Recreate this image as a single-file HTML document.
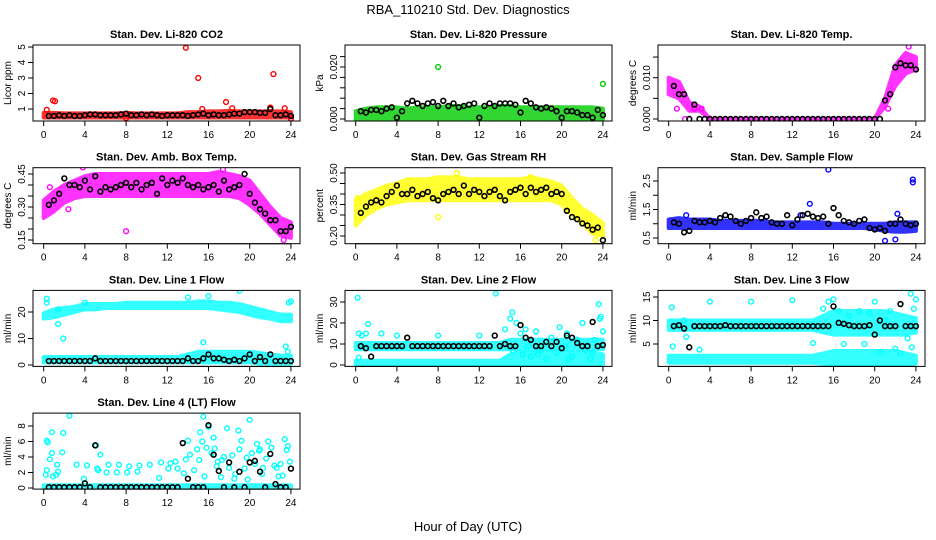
<!DOCTYPE html>
<html><head><meta charset="utf-8"><style>
body{margin:0;background:#fff}
svg{display:block;font-family:"Liberation Sans",sans-serif}
</style></head><body>
<svg id="chart" width="936" height="540" viewBox="0 0 936 540" xmlns="http://www.w3.org/2000/svg">
<rect width="936" height="540" fill="#fff"/>
<text x="468" y="14" text-anchor="middle" font-size="13">RBA_110210  Std. Dev. Diagnostics</text>
<text x="468" y="531" text-anchor="middle" font-size="13">Hour of Day (UTC)</text>
</svg>
<script>
const bandHours=[0,1,2,3,4,5,6,7,8,9,10,11,12,13,14,15,16,17,18,19,20,21,22,23,24];
const blkHours=[0.5,1,1.5,2,2.5,3,3.5,4,4.5,5,5.5,6,6.5,7,7.5,8,8.5,9,9.5,10,10.5,11,11.5,12,12.5,13,13.5,14,14.5,15,15.5,16,16.5,17,17.5,18,18.5,19,19.5,20,20.5,21,21.5,22,22.5,23,23.5,24];
const xTicks=[0,4,8,12,16,20,24];

// A CO2
const coLo=[0.45,0.45,0.45,0.45,0.45,0.45,0.45,0.45,0.45,0.45,0.45,0.45,0.45,0.45,0.45,0.45,0.45,0.45,0.45,0.45,0.45,0.45,0.45,0.45,0.45];
const coHi=[0.75,0.75,0.72,0.72,0.72,0.72,0.72,0.72,0.75,0.72,0.72,0.72,0.72,0.72,0.8,0.8,0.85,0.85,0.88,0.85,0.85,0.85,0.85,0.85,0.8];
const coOutH=[0.3,0.9,1.1,13.8,15,15.4,17.7,18.3,22,22.3,23.4,8,24];
const coOutV=[0.95,1.55,1.5,4.95,3.0,1.0,1.45,1.05,1.1,3.25,1.05,0.4,0.38];
const coBlk=[0.55,0.55,0.6,0.55,0.6,0.55,0.55,0.6,0.65,0.65,0.6,0.6,0.6,0.6,0.65,0.7,0.6,0.6,0.65,0.6,0.65,0.6,0.55,0.6,0.6,0.6,0.6,0.55,0.6,0.65,0.7,0.6,0.65,0.6,0.6,0.65,0.7,0.7,0.8,0.8,0.8,0.75,0.75,1.0,0.6,0.6,0.65,0.55];
// B pressure
const prLo=[0,0,0,0,0,0,0,0,0,0,0,0,0,0,0,0,0,0,0,0,0,0,0,0,0];
const prHi=[0.003,0.004,0.0045,0.0045,0.0045,0.004,0.0045,0.0045,0.0045,0.005,0.005,0.0045,0.0045,0.0045,0.005,0.005,0.0045,0.0045,0.0045,0.0045,0.0045,0.0045,0.0045,0.0045,0.004];
const prOutH=[8,16,24];
const prOutV=[0.02,0.0335,0.0135];
const prBlk=[0.003,0.0025,0.0035,0.0035,0.003,0.004,0.0045,0.0005,0.003,0.006,0.007,0.006,0.005,0.006,0.0065,0.005,0.007,0.005,0.006,0.0045,0.005,0.0055,0.006,0.0005,0.005,0.006,0.005,0.006,0.006,0.006,0.0055,0.0025,0.007,0.006,0.0045,0.004,0.0045,0.004,0.003,0.0005,0.003,0.003,0.0025,0.0015,0.0015,0.0005,0.0035,0.0015];
// C temp
const tpLo=[0.006,0.005,0.002,0.002,0,0,0,0,0,0,0,0,0,0,0,0,0,0,0,0,0,0.003,0.008,0.011,0.012];
const tpHi=[0.01,0.009,0.004,0.003,0,0,0,0,0,0,0,0,0,0,0,0,0,0,0,0,0,0.005,0.013,0.016,0.015];
const tpOutH=[0.8,23.3,21.3,1.6,2.5,3.2];
const tpOutV=[0.0025,0.0175,0.0025,0,0.0025,0.0025];
const tpBlk=[0.008,0.006,0.006,0,0.0035,0,0,0,0,0,0,0,0,0,0,0,0,0,0,0,0,0,0,0,0,0,0,0,0,0,0,0,0,0,0,0,0,0,0,0,0,0.0045,0.006,0.0125,0.0135,0.013,0.013,0.012];
// D amb box
const abLo=[0.25,0.28,0.32,0.34,0.35,0.35,0.35,0.35,0.35,0.35,0.35,0.35,0.35,0.35,0.35,0.35,0.35,0.35,0.35,0.34,0.31,0.27,0.22,0.17,0.16];
const abHi=[0.33,0.37,0.4,0.42,0.44,0.45,0.45,0.45,0.45,0.45,0.45,0.45,0.45,0.45,0.45,0.45,0.45,0.46,0.45,0.44,0.42,0.36,0.3,0.25,0.23];
const abOutH=[3.8,8,2.4,0.6,17.4,23.3];
const abOutV=[0.48,0.19,0.29,0.39,0.47,0.15];
const abBlk=[0.31,0.33,0.36,0.43,0.40,0.40,0.39,0.42,0.38,0.44,0.37,0.39,0.38,0.39,0.40,0.41,0.39,0.41,0.38,0.40,0.41,0.36,0.43,0.40,0.42,0.41,0.43,0.40,0.39,0.40,0.38,0.39,0.40,0.37,0.42,0.38,0.39,0.40,0.45,0.36,0.32,0.29,0.27,0.24,0.24,0.19,0.19,0.21];
// E RH
const rhLo=[0.25,0.3,0.33,0.35,0.36,0.37,0.37,0.37,0.37,0.37,0.37,0.37,0.37,0.37,0.37,0.37,0.37,0.37,0.37,0.37,0.35,0.3,0.26,0.21,0.2];
const rhHi=[0.37,0.4,0.42,0.44,0.45,0.47,0.47,0.47,0.48,0.48,0.48,0.47,0.47,0.47,0.47,0.47,0.47,0.48,0.47,0.46,0.44,0.38,0.33,0.3,0.26];
const rhOutH=[9.8,8,23.3,0.2,17];
const rhOutV=[0.5,0.29,0.18,0.38,0.48];
const rhBlk=[0.31,0.34,0.36,0.37,0.36,0.39,0.41,0.44,0.40,0.40,0.42,0.39,0.40,0.41,0.38,0.37,0.40,0.41,0.42,0.40,0.44,0.40,0.42,0.41,0.39,0.41,0.42,0.39,0.37,0.41,0.42,0.43,0.40,0.43,0.41,0.42,0.43,0.40,0.41,0.40,0.32,0.29,0.28,0.26,0.25,0.23,0.24,0.18];
// F sample flow
const sfLo=[0.85,0.85,0.85,0.85,0.85,0.85,0.85,0.85,0.85,0.85,0.85,0.85,0.85,0.85,0.85,0.85,0.85,0.85,0.85,0.85,0.8,0.75,0.72,0.72,0.75];
const sfHi=[1.15,1.2,1.15,1.15,1.15,1.1,1.1,1.1,1.1,1.1,1.05,1.05,1.05,1.05,1.05,1.05,1.0,1.0,1.0,1.0,1.0,1.0,1.05,1.05,1.05];
const sfOutH=[15.5,23.7,23.7,13.7,22.2,21,22,1.7,12.8];
const sfOutV=[2.9,2.55,2.45,1.7,1.35,0.4,0.45,1.3,1.3];
const sfBlk=[1.05,1.0,0.7,0.75,1.1,1.05,1.05,1.1,1.05,1.2,1.3,1.25,1.1,1.0,1.1,1.2,1.4,1.2,1.25,1.05,1.0,1.0,1.3,0.95,1.15,1.3,1.35,1.25,1.2,1.25,1.0,1.55,1.3,1.1,1.05,1.0,1.1,1.15,0.85,0.8,0.85,0.75,1.0,1.0,1.15,1.0,0.95,1.0];
// G line 1
const l1ALo=[17.5,18,19,20,21,21,21.5,21.5,21.5,21.5,21.5,21.5,21.5,21.5,21.5,21.5,21.5,21,20.5,20,19,18,17.5,16.5,16.5];
const l1AHi=[19.5,21,21.5,22,23,23,23,23,23.5,23.5,23.5,23.5,23.5,23.5,23.5,24,24,23.5,23.5,23,22,21,20,19,19];
const l1BLo=[1,1,1,1,1,1,1,1,1,1,1,1,1,1,1,1,1,1,1,1,1,0.5,0.5,0.5,0.5];
const l1BHi=[3,3,3,3,3,3,3,3,3,3,3,3,3,3,4,5,5,5,5,5,5,4.5,4,3.5,3.5];
const l1OutH=[0.3,0.3,1.4,1.4,1.9,15.5,14,19,23.5,23.7,23.8,24,16,4];
const l1OutV=[25,23.5,21,15.5,10,8.5,25.5,28,7,5,23.5,24,26,23.5];
const l1Blk=[1.5,1.5,1.5,1.5,1.5,1.5,1.5,1.5,1.5,2.5,1.5,1.5,1.5,1.5,1.5,1.5,1.5,1.5,1.5,1.5,1.5,1.5,1.5,1.5,1.5,1.5,1.5,2.5,1.5,1.5,2.5,4,2.5,2.5,2,1.5,2,1.5,2.5,4,1.5,3,1.5,4,1.5,1.5,1.5,1.5];
// H line 2
const l2ALo=[7.5,7.5,7.5,7.5,7.5,7.5,7.5,7.5,7.5,7.5,7.5,7.5,7.5,7.5,7.5,7.5,7.5,7.5,7.5,7.5,7.5,7.5,7.5,7.5,7.5];
const l2AHi=[10.5,10.5,10.5,10.5,10.5,10.5,10.5,10.5,10.5,10.5,10.5,10.5,10.5,10.5,10.5,12,12,12,12,12,12,12,12,12,12];
const l2BLo=[0,0,0,0,0,0,0,0,0,0,0,0,0,0,0,0,0,0,0,0,0,0,0,0,0];
const l2BHi=[2,2,2,2,2,2,2,2,2,2,2,2,2,2,2,5,6,6,6,6,6,6,6,6,5];
const l2OutH=[0.2,0.3,0.6,1,1.2,2.5,4,8,12,13.6,14.5,15,15.2,15.6,16,16.5,16.2,16.8,17,17.5,18,18.5,19,19.5,19.8,20.3,20.5,21,21.5,22,22.3,22.8,23.2,23.6,23.7,23.8,24,0.3,15.3,17.7,20.7,23];
const l2OutV=[32,15,14,15,19.5,15,14,14,14,34,17,22,25,20,15,17,5,9,4,16,7,3,13,6,18,9,15,4,12,20,7,3,12,29,22,23,16,3.5,6.5,5,3,6];
const l2Blk=[9,8,4,9,9,9,9,9,9,13,9,9,9,9,9,9,9,9,9,9,9,9,9,9,9,9,14,9,10,9,9,19,13,12,9,9,11,9,11,8,14,13,10.5,9,9,20.5,9,9.5];
// I line 3
const l3ALo=[8,8,8,8,8,8,8,8,8,8,8,8,8,8,8,7.5,7,7,7,7,7,7,7,7,7.5];
const l3AHi=[10,10,10,10,10,10,10,10,10,10,10,10,10,10,10,11,12,12,12,12,12,12,11.5,11,10.5];
const l3BLo=[1,1,1,1,1,1,1,1,1,1,1,1,1,1,1,0.8,0.5,0.5,0.5,0.5,0.5,0.5,0.5,0.5,0.8];
const l3BHi=[2.5,2.5,2.5,2.5,2.5,2.5,2.5,2.5,2.5,2.5,2.5,2.5,2.5,2.5,2.5,3,3.5,3.5,3.5,3.5,3.5,3.5,3.5,3,2.5];
const l3OutH=[0.3,0.4,1.5,1.7,3,4,8,12,14,15.5,16,20,21,23.5,23.8,24,23.2,23.6,15,16.5,17.5,18.5,19.5,19,21.5,22,22.5,17,20.5];
const l3OutV=[12.8,4.5,10,6.5,3.8,14,14,14.3,5.2,14,14.5,14,10,15.7,12.5,14.5,6.2,4.3,12.5,12,11,12,11.5,5,12,4,3,5,3.3];
const l3Blk=[8.8,9,8.3,4.3,8.8,8.8,8.8,8.8,8.8,8.8,9,8.8,8.8,8.8,8.8,8.8,8.8,8.8,8.8,8.8,8.8,8.8,8.8,8.8,8.8,8.8,8.8,8.8,8.8,8.8,8.8,13,9.5,9.3,9,8.8,8.8,8.8,9,7,10,8.8,8.8,8.8,13.5,8.8,8.8,8.8];
// J line 4
const l4Lo=[0,0,0,0,0,0,0,0,0,0,0,0,0,0,0,0,0,0,0,0,0,0,0,0,0];
const l4Hi=[0.35,0.35,0.35,0.35,0.35,0.35,0.35,0.35,0.35,0.35,0.35,0.35,0.35,0.35,0.35,0.35,0.35,0.35,0.35,0.35,0.35,0.35,0.35,0.35,0.35];
const l4OutH=[0.2,0.3,0.3,0.4,0.6,0.8,0.8,0.9,1.2,1.3,1.4,1.8,1.9,2.5,3.2,3.9,4.2,5.1,5.2,5.3,5.5,6.1,6.3,7.1,7.3,8.1,8.3,9.1,9.3,10.3,11.2,11.4,12.1,12.3,12.8,13.0,13.6,13.8,14.0,14.2,14.6,14.9,15.1,15.2,15.4,15.5,15.6,15.8,16.0,16.3,16.5,16.6,16.9,17.2,17.5,17.8,18.0,18.3,18.6,18.9,19.0,19.2,19.5,19.8,20.0,20.2,20.5,20.7,21.0,21.3,21.6,21.8,22.1,22.4,22.8,23.0,23.2,23.4,23.6,23.7,23.9,16.8,17.3,18.5,19.7,21.2,22.6,20.9];
const l4OutV=[1.7,2.3,6.1,5.9,3.7,7.2,4.5,1.5,1.7,3.0,2.1,4.6,7.1,9.3,3.0,1.2,2.9,5.5,2.5,2.3,4.3,2.0,3.0,2.0,3.0,2.0,2.8,2.1,2.9,3.0,1.3,3.3,2.5,3.2,3.4,2.5,1.9,3.7,6.1,4.3,2.3,5.0,3.6,7.2,6.0,9.2,1.5,5.2,7.9,4.5,6.5,5.1,3.4,1.4,4.0,7.7,2.6,4.2,1.8,7.4,5.0,6.1,2.5,1.1,8.8,4.5,3.1,5.7,5.0,2.6,3.8,6.0,5.2,2.9,1.5,3.1,1.6,6.3,4.9,5.4,3.4,2.8,3.6,1.2,3.9,1.8,2.6,4.8];
const l4Blk=[0.1,0.1,0.1,0.1,0.1,0.1,0.1,0.6,0.1,5.5,0.1,0.1,0.1,0.1,0.1,0.1,0.1,0.1,0.1,0.1,0.1,0.1,0.1,0.1,0.1,0.1,5.8,1.2,0.1,0.1,0.1,8.1,4.3,2.2,0.1,3.3,0.1,2.1,0.1,3.3,3.5,2.1,0.1,4.4,0.5,0.1,0.1,2.5];

const NS='http://www.w3.org/2000/svg';
const svg=document.getElementById('chart');
function el(tag,attrs,parent){const e=document.createElementNS(NS,tag);for(const k in attrs)e.setAttribute(k,attrs[k]);(parent||svg).appendChild(e);return e;}
const colLeft=[33,345,658],colW=267,boxH=76;
function rowTop(r){return 45+122.7*r;}

function panel(p){
  const L=colLeft[p.col],T=rowTop(p.row),B=T+boxH;
  const g=el('g',{});
  
  
  const xs=h=>L+colW*(0.04+h/24*0.926);
  const ys=v=>p.py1+(v-p.v1)*(p.py2-p.py1)/(p.v2-p.v1);
  const clip='c'+p.name;
  const cp=el('clipPath',{id:clip},g);el('rect',{x:L,y:T,width:colW,height:boxH},cp);
  const pg=el('g',{'clip-path':'url(#'+clip+')'},g);
  p.bands.forEach((b,bi)=>{
    const pts=bandHours.map((h,i)=>xs(h)+','+ys(b[0][i])).concat(bandHours.map((h,i)=>xs(h)+','+ys(b[1][i])).reverse());
    const poly=el('polygon',{points:pts.join(' '),fill:p.color,opacity:0.8,stroke:p.color,'stroke-width':4,'stroke-linejoin':'round'},pg);
    
    
  });
  p.outH.forEach((h,i)=>{
    const c=el('circle',{cx:xs(h),cy:ys(p.outV[i]),r:2.4,fill:'none',stroke:p.color,'stroke-width':1.4},pg);
    
    
  });
  blkHours.forEach((h,i)=>{
    const c=el('circle',{cx:xs(h),cy:ys(p.blk[i]),r:2.4,fill:'none',stroke:'#000','stroke-width':1.6},pg);
    
    
  });
  el('rect',{x:L,y:T,width:colW,height:boxH,fill:'none',stroke:'#000','stroke-width':1},g);
  const t=el('text',{x:L+colW/2,y:T-7,'text-anchor':'middle','font-size':11,'font-weight':'bold'},g);
  t.textContent=p.title;
  
  
  xTicks.forEach(h=>{
    el('line',{x1:xs(h),x2:xs(h),y1:B,y2:B+5,stroke:'#000'},g);
    const tx=el('text',{x:xs(h),y:B+17,'text-anchor':'middle','font-size':10},g);
    tx.textContent=h;
    
    
  });
  el('line',{x1:xs(0),x2:xs(24),y1:B,y2:B,stroke:'#000'},g);
  p.yt.forEach(v=>{el('line',{x1:L-5,x2:L,y1:ys(v),y2:ys(v),stroke:'#000'},g);});
  el('line',{x1:L,x2:L,y1:ys(p.yt[0]),y2:ys(p.yt[p.yt.length-1]),stroke:'#000'},g);
  p.yl.forEach((v,i)=>{
    const y=ys(v);
    const tx=el('text',{x:L-8,y:y,'text-anchor':'middle','font-size':10,transform:'rotate(-90 '+(L-8)+' '+y+')'},g);
    tx.textContent=p.ylt[i];
    
    
  });
  const yy=T+boxH/2,xx=L-22;
  const yt=el('text',{x:xx,y:yy,'text-anchor':'middle','font-size':10,transform:'rotate(-90 '+xx+' '+yy+')'},g);
  yt.textContent=p.ylab;
  
  
}
panel({name:'co2',col:0,row:0,title:'Stan. Dev. Li-820 CO2',ylab:'Licor ppm',color:'#ff0000',v1:1,py1:109,v2:5,py2:47,bands:[[coLo,coHi]],outH:coOutH,outV:coOutV,blk:coBlk,yt:[1,2,3,4,5],yl:[1,2,3,4,5],ylt:['1','2','3','4','5']});
panel({name:'pressure',col:1,row:0,title:'Stan. Dev. Li-820 Pressure',ylab:'kPa',color:'#00cd00',v1:0,py1:119,v2:0.02,py2:67,bands:[[prLo,prHi]],outH:prOutH,outV:prOutV,blk:prBlk,yt:[0,0.004,0.008,0.012,0.016,0.02,0.024],yl:[0,0.02],ylt:['0.000','0.020']});
panel({name:'temp',col:2,row:0,title:'Stan. Dev. Li-820 Temp.',ylab:'degrees C',color:'#ff00ff',v1:0,py1:119,v2:0.01,py2:77.7,bands:[[tpLo,tpHi]],outH:tpOutH,outV:tpOutV,blk:tpBlk,yt:[0,0.005,0.01,0.015],yl:[0,0.01],ylt:['0.000','0.010']});
panel({name:'ambbox',col:0,row:1,title:'Stan. Dev. Amb. Box Temp.',ylab:'degrees C',color:'#ff00ff',v1:0.15,py1:240,v2:0.45,py2:174,bands:[[abLo,abHi]],outH:abOutH,outV:abOutV,blk:abBlk,yt:[0.15,0.2,0.25,0.3,0.35,0.4,0.45],yl:[0.15,0.3,0.45],ylt:['0.15','0.30','0.45']});
panel({name:'rh',col:1,row:1,title:'Stan. Dev. Gas Stream RH',ylab:'percent',color:'#ffff00',v1:0.2,py1:236,v2:0.5,py2:173,bands:[[rhLo,rhHi]],outH:rhOutH,outV:rhOutV,blk:rhBlk,yt:[0.2,0.25,0.3,0.35,0.4,0.45,0.5],yl:[0.2,0.35,0.5],ylt:['0.20','0.35','0.50']});
panel({name:'sampleflow',col:2,row:1,title:'Stan. Dev. Sample Flow',ylab:'ml/min',color:'#0000ff',v1:0.5,py1:238,v2:2.5,py2:181,bands:[[sfLo,sfHi]],outH:sfOutH,outV:sfOutV,blk:sfBlk,yt:[0.5,1,1.5,2,2.5],yl:[0.5,1.5,2.5],ylt:['0.5','1.5','2.5']});
panel({name:'line1',col:0,row:2,title:'Stan. Dev. Line 1 Flow',ylab:'ml/min',color:'#00ffff',v1:0,py1:365,v2:20,py2:312,bands:[[l1ALo,l1AHi],[l1BLo,l1BHi]],outH:l1OutH,outV:l1OutV,blk:l1Blk,yt:[0,10,20],yl:[0,10,20],ylt:['0','10','20']});
panel({name:'line2',col:1,row:2,title:'Stan. Dev. Line 2 Flow',ylab:'ml/min',color:'#00ffff',v1:0,py1:365,v2:30,py2:302,bands:[[l2ALo,l2AHi],[l2BLo,l2BHi]],outH:l2OutH,outV:l2OutV,blk:l2Blk,yt:[0,10,20,30],yl:[0,10,20,30],ylt:['0','10','20','30']});
panel({name:'line3',col:2,row:2,title:'Stan. Dev. Line 3 Flow',ylab:'ml/min',color:'#00ffff',v1:5,py1:344,v2:15,py2:297,bands:[[l3ALo,l3AHi],[l3BLo,l3BHi]],outH:l3OutH,outV:l3OutV,blk:l3Blk,yt:[5,10,15],yl:[5,10,15],ylt:['5','10','15']});
panel({name:'line4',col:0,row:3,title:'Stan. Dev. Line 4 (LT) Flow',ylab:'ml/min',color:'#00ffff',v1:0,py1:488,v2:8,py2:426,bands:[[l4Lo,l4Hi]],outH:l4OutH,outV:l4OutV,blk:l4Blk,yt:[0,2,4,6,8],yl:[0,2,4,6,8],ylt:['0','2','4','6','8']});
</script>
</body></html>
